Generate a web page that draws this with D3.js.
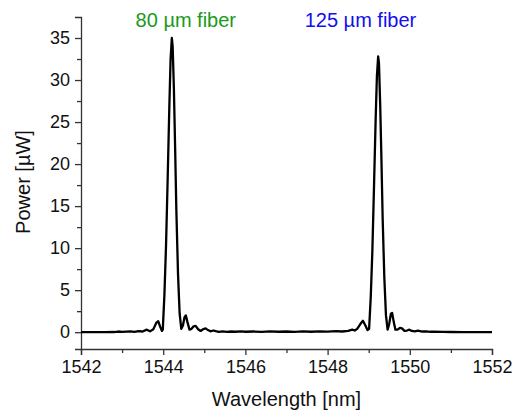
<!DOCTYPE html>
<meta charset="utf-8">
<script src="https://d3js.org/d3.v7.min.js"></script>
<style>
  body { margin: 0; background: #fff; }
  text { font-family: "Liberation Sans", Arial, sans-serif; }
</style>
<div id="my_dataviz"></div>
<script>

// Data
var wavelength = [
  1542.0, 1542.2, 1542.4, 1542.6, 1542.8, 1542.9, 1543.0, 1543.1, 1543.2, 1543.3,
  1543.4, 1543.5, 1543.6, 1543.68, 1543.76, 1543.83, 1543.88, 1543.93, 1543.97,
  1543.99, 1544.03, 1544.07, 1544.11, 1544.15, 1544.18, 1544.21, 1544.23, 1544.26,
  1544.29, 1544.32, 1544.36, 1544.40, 1544.44, 1544.48, 1544.52, 1544.55, 1544.59,
  1544.64, 1544.69, 1544.74, 1544.79, 1544.85, 1544.91, 1544.97, 1545.03, 1545.09,
  1545.15, 1545.22, 1545.28, 1545.35, 1545.45, 1545.55, 1545.65, 1545.75, 1545.9,
  1546.0, 1546.2, 1546.4, 1546.6, 1546.8, 1547.0, 1547.2, 1547.4, 1547.6, 1547.8,
  1548.0, 1548.2, 1548.35, 1548.5, 1548.6, 1548.66, 1548.72, 1548.8, 1548.86,
  1548.92, 1548.97, 1549.01, 1549.05, 1549.09, 1549.13, 1549.17, 1549.20, 1549.23,
  1549.25, 1549.28, 1549.31, 1549.34, 1549.38, 1549.42, 1549.46, 1549.50, 1549.54,
  1549.57, 1549.61, 1549.65, 1549.70, 1549.76, 1549.81, 1549.87, 1549.93, 1549.99,
  1550.05, 1550.12, 1550.2, 1550.3, 1550.4, 1550.5, 1550.6, 1550.8, 1551.0,
  1551.3, 1551.6, 1552.0
];
var power = [
  0.0, 0.0, 0.0, 0.01, 0.02, 0.08, 0.03, 0.06, 0.1, 0.04,
  0.12, 0.08, 0.3, 0.1, 0.35, 1.1, 1.3, 0.6, 0.15,
  0.3, 4.5, 10.5, 18.5, 27, 32.5, 35, 34, 29,
  22, 14.5, 7, 2.2, 0.4, 0.8, 1.8, 2.0, 1.2,
  0.3, 0.4, 0.7, 0.75, 0.35, 0.15, 0.35, 0.45, 0.25,
  0.1, 0.2, 0.12, 0.05, 0.1, 0.04, 0.08, 0.05, 0.09,
  0.05, 0.08, 0.04, 0.1, 0.05, 0.08, 0.04, 0.1, 0.05, 0.1,
  0.06, 0.12, 0.08, 0.15, 0.3, 0.2, 0.4, 1.0, 1.35,
  0.8, 0.25, 0.4, 4.2, 9.8, 17.5, 25.5, 30.5, 32.8,
  32, 27, 20.5, 13.5, 6.5, 2, 0.3, 1.0, 2.2,
  2.3, 1.2, 0.3, 0.3, 0.5, 0.45, 0.15, 0.2, 0.3,
  0.15, 0.1, 0.18, 0.08, 0.1, 0.05, 0.07, 0.03, 0.02,
  0.01, 0.0, 0.0
];
var xTicks = [1542, 1544, 1546, 1548, 1550, 1552];
var xMinorTicks = [1543, 1545, 1547, 1549, 1551];
var yTicks = [0, 5, 10, 15, 20, 25, 30, 35];
var yMinorTicks = [2.5, 7.5, 12.5, 17.5, 22.5, 27.5, 32.5];
var labels = ["80 \u00b5m fiber", "125 \u00b5m fiber"];
var labelWl = [1544.55, 1548.8];
var labelColors = ["#1a9a1a", "#1010ee"];

var W = 514, H = 413;
var svg = d3.select('#my_dataviz')
  .append('svg')
    .attr('width', W)
    .attr('height', H);

// Scales
var x = d3.scaleLinear().domain([1542, 1552]).range([81, 492]);
var y = d3.scaleLinear().domain([-2, 37.5]).range([349, 17]);

var axisColor = '#333';

// Bottom axis
var gx = svg.append('g')
  .attr('transform', 'translate(0,' + y.range()[0] + ')')
  .call(d3.axisBottom(x).tickValues(xTicks).tickSize(6).tickPadding(5).tickFormat(d3.format('d')));
svg.append('g')
  .attr('transform', 'translate(0,' + y.range()[0] + ')')
  .call(d3.axisBottom(x).tickValues(xMinorTicks).tickSize(4).tickFormat(''))
  .select('.domain').remove();

// Left axis
var gy = svg.append('g')
  .attr('transform', 'translate(' + x.range()[0] + ',0)')
  .call(d3.axisLeft(y).tickValues(yTicks).tickSize(6).tickPadding(5));
svg.append('g')
  .attr('transform', 'translate(' + x.range()[0] + ',0)')
  .call(d3.axisLeft(y).tickValues(yMinorTicks).tickSize(4).tickFormat(''))
  .select('.domain').remove();

svg.selectAll('.domain, .tick line')
  .attr('stroke', axisColor)
  .attr('stroke-width', 1.3);
svg.selectAll('.tick text')
  .style('font-size', '18px')
  .attr('fill', '#111');

// Axis titles
svg.append('text')
  .attr('text-anchor', 'middle')
  .attr('x', (x.range()[0] + x.range()[1]) / 2)
  .attr('y', 406)
  .style('font-size', '20px')
  .attr('fill', '#111')
  .text('Wavelength [nm]');

svg.append('text')
  .attr('text-anchor', 'middle')
  .attr('transform', 'translate(30,' + 182 + ') rotate(-90)')
  .style('font-size', '20px')
  .attr('fill', '#111')
  .text('Power [\u00b5W]');

// Spectrum line
var pts = wavelength.map(function(d, i) { return [d, power[i]]; });
var line = d3.line()
  .x(function(d) { return x(d[0]); })
  .y(function(d) { return y(d[1]); });
svg.append('path')
  .datum(pts)
  .attr('d', line)
  .attr('fill', 'none')
  .attr('stroke', '#000')
  .attr('stroke-width', 2.3)
  .attr('stroke-linejoin', 'round');

// Peak labels
svg.selectAll('.peaklabel')
  .data(labels)
  .enter()
  .append('text')
    .attr('class', 'peaklabel')
    .attr('text-anchor', 'middle')
    .attr('x', function(d, i) { return x(labelWl[i]); })
    .attr('y', 27)
    .style('font-size', '20px')
    .attr('fill', function(d, i) { return labelColors[i]; })
    .text(function(d) { return d; });

</script>
